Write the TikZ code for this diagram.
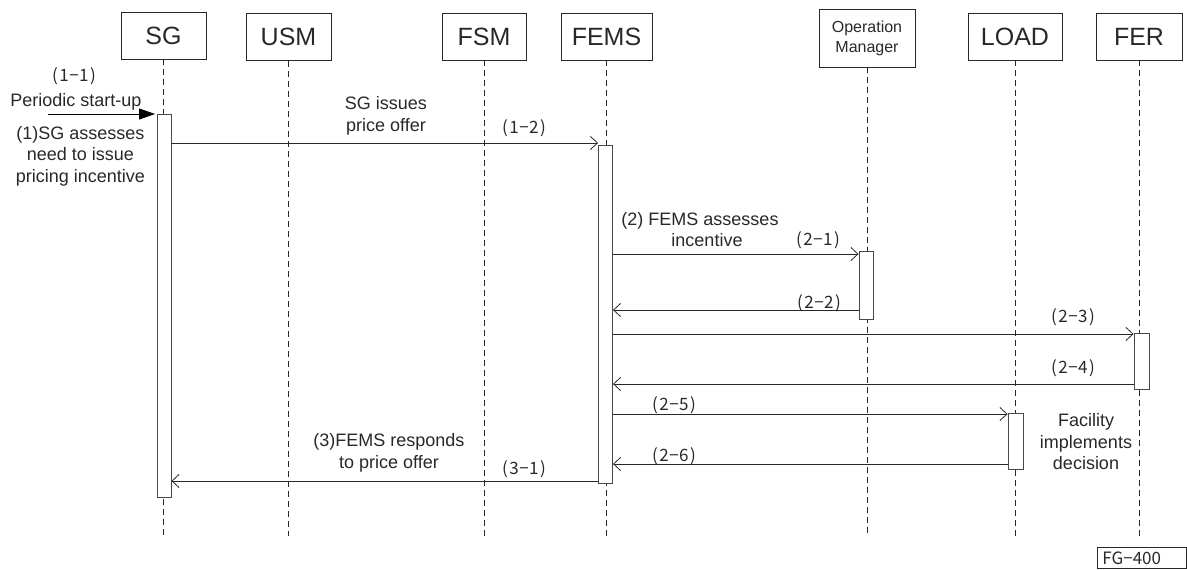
\documentclass[tikz,border=0pt]{standalone}
\usepackage{fontspec}
\setmainfont{Liberation Sans}
\newfontfamily\jpfont{Noto Sans CJK JP}
\usetikzlibrary{arrows.meta}
\definecolor{ink}{RGB}{40,40,40}
\newcommand{\nmlabel}[2]{(\kern1.5pt#1\kern0.5pt−\kern0.5pt#2\kern1.5pt)}
\begin{document}
\begin{tikzpicture}[x=1pt,y=-1pt,
  head/.style={draw=ink,line width=0.9pt,minimum height=47pt,inner sep=0pt,font=\fontsize{25}{28}\selectfont,text=ink},
  life/.style={draw=ink,line width=0.8pt,dash pattern=on 6pt off 4pt},
  act/.style={draw=ink!85,fill=white,line width=0.9pt,minimum width=14pt,inner sep=0pt},
  msg/.style={draw=ink,line width=0.8pt,-{Straight Barb[length=7pt,width=13pt]}},
  startmsg/.style={draw=black,line width=0.9pt,-{Triangle[length=16pt,width=11pt]}},
  txt/.style={text=ink,font=\fontsize{18}{21.5}\selectfont,align=center,inner sep=0pt},
  num/.style={text=ink,font=\jpfont\fontsize{17}{19}\selectfont,inner sep=0pt}]
\useasboundingbox (0,0) rectangle (1187,570);

% heads
\node[head,minimum width=85pt] (SG) at (163.5,35.5) {SG};
\node[head,minimum width=85pt] (USM) at (288.5,37) {USM};
\node[head,minimum width=84pt] (FSM) at (484,36.5) {FSM};
\node[head,minimum width=91pt] (FEMS) at (606.5,36.5) {FEMS};
\node[head,minimum width=96pt,minimum height=58pt,font=\fontsize{16}{20}\selectfont,align=center] (OM) at (867,38) {Operation\\Manager};
\node[head,minimum width=94pt] (LOAD) at (1015,36.5) {LOAD};
\node[head,minimum width=86pt] (FER) at (1139,36.5) {FER};

% lifelines
\coordinate (endY) at (0,536);
\foreach \n in {SG,USM,FSM,FEMS,OM,LOAD,FER}
  \draw[life] (\n.south) -- (\n.south |- endY);

% activations
\node[act,minimum height=383pt] (aSG) at (164,305.5) {};
\node[act,minimum height=338pt] (aFEMS) at (605.5,314) {};
\node[act,minimum height=68pt] (aOM) at (866,285) {};
\node[act,minimum height=56pt,minimum width=15pt] (aFER) at (1141.5,361) {};
\node[act,minimum height=56pt,minimum width=15pt] (aLOAD) at (1015.5,441) {};

% message rows
\coordinate (y11) at (0,114);
\coordinate (y12) at (0,143);
\coordinate (y21) at (0,254);
\coordinate (y22) at (0,310);
\coordinate (y23) at (0,334);
\coordinate (y24) at (0,384);
\coordinate (y25) at (0,414);
\coordinate (y26) at (0,464);
\coordinate (y31) at (0,481);
\coordinate (start) at (48,114);

\draw[startmsg] (start) -- ([xshift=-1.5pt]aSG.west |- y11);
\draw[msg] (aSG.east |- y12) -- (aFEMS.west |- y12);
\draw[msg] (aFEMS.east |- y21) -- (aOM.west |- y21);
\draw[msg] (aOM.west |- y22) -- (aFEMS.east |- y22);
\draw[msg] (aFEMS.east |- y23) -- (aFER.west |- y23);
\draw[msg] (aFER.west |- y24) -- (aFEMS.east |- y24);
\draw[msg] (aFEMS.east |- y25) -- (aLOAD.west |- y25);
\draw[msg] (aLOAD.west |- y26) -- (aFEMS.east |- y26);
\draw[msg] (aFEMS.west |- y31) -- (aSG.east |- y31);

% texts
\node[num] (n11) at (74,76) {\nmlabel{1}{1}};
\node[txt] (t11) at (76,102) {Periodic start-up};
\node[txt] (t1) at (80.5,156) {(1)SG assesses\\need to issue\\pricing incentive};
\node[txt] (t12) at (386,116) {SG issues\\price offer};
\node[num] (n12) at (524,128) {\nmlabel{1}{2}};
\node[txt] (t2) at (700,229.5) {(2) FEMS assesses\\\hspace*{14pt}incentive};
\node[num] (n21) at (818,240) {\nmlabel{2}{1}};
\node[num] (n22) at (819,303) {\nmlabel{2}{2}};
\node[num] (n23) at (1073,317) {\nmlabel{2}{3}};
\node[num] (n24) at (1073,368) {\nmlabel{2}{4}};
\node[num] (n25) at (674,405) {\nmlabel{2}{5}};
\node[num] (n26) at (674,456) {\nmlabel{2}{6}};
\node[txt] (tf) at (1086,442) {Facility\\implements\\decision};
\node[txt] (t3) at (389,453) {(3)FEMS responds\\to price offer};
\node[num] (n31) at (524,469) {\nmlabel{3}{1}};

\node[draw=ink,line width=0.8pt,anchor=north west,minimum height=21pt,text width=79pt,inner xsep=5pt,inner ysep=0pt,align=left,text=ink,font=\jpfont\fontsize{17}{19}\selectfont] (fg) at (1097,547) {FG−400};
\end{tikzpicture}
\end{document}
